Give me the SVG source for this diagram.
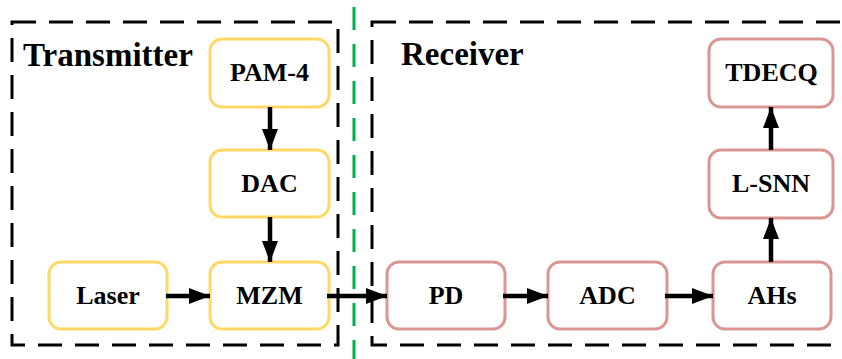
<svg xmlns="http://www.w3.org/2000/svg" width="842" height="359" viewBox="0 0 842 359">
  <style>
    .frame { fill: none; stroke: #000; stroke-width: 3; stroke-dasharray: 24 13; }
    .divider { fill: none; stroke: #00B050; stroke-width: 3; stroke-dasharray: 23 14; }
    .tx rect { fill: #fff; stroke: #FFD966; stroke-width: 3; }
    .rx rect { fill: #fff; stroke: #DA9694; stroke-width: 3; }
    text { font-family: "Liberation Serif", "Times New Roman", serif; font-weight: bold; fill: #000; }
    .lbl { font-size: 26px; text-anchor: middle; }
    .title { font-size: 33px; }
    .conn line { stroke: #000; stroke-width: 4.5; }
  </style>
  <defs>
    <marker id="head" markerUnits="userSpaceOnUse" markerWidth="22" markerHeight="16" refX="21" refY="8" orient="auto">
      <path d="M0,0 L21,8 L0,16 Z" fill="#000"/>
    </marker>
  </defs>

  <!-- section frames -->
  <rect class="frame" x="12" y="22" width="326" height="323"/>
  <rect class="frame" x="372" y="22" width="475" height="323"/>
  <line class="divider" x1="354" y1="7" x2="354" y2="359"/>

  <text class="title" x="23" y="66" font-family="Liberation Serif, serif">Transmitter</text>
  <text class="title" x="401" y="65" font-family="Liberation Serif, serif">Receiver</text>

  <!-- transmitter blocks -->
  <g id="pam4" class="tx"><rect x="210" y="39" width="119" height="68" rx="12"/><text class="lbl" x="269.5" y="81">PAM-4</text></g>
  <g id="dac" class="tx"><rect x="210" y="150" width="119" height="67" rx="12"/><text class="lbl" x="269.5" y="192">DAC</text></g>
  <g id="laser" class="tx"><rect x="49" y="262" width="118" height="67" rx="12"/><text class="lbl" x="108" y="304">Laser</text></g>
  <g id="mzm" class="tx"><rect x="210" y="262" width="119" height="67" rx="12"/><text class="lbl" x="269.5" y="304">MZM</text></g>

  <!-- receiver blocks -->
  <g id="pd" class="rx"><rect x="387" y="262" width="118" height="67" rx="12"/><text class="lbl" x="446" y="304">PD</text></g>
  <g id="adc" class="rx"><rect x="548" y="262" width="119" height="67" rx="12"/><text class="lbl" x="607.5" y="304">ADC</text></g>
  <g id="ahs" class="rx"><rect x="713" y="262" width="118" height="67" rx="12"/><text class="lbl" x="772" y="304">AHs</text></g>
  <g id="lsnn" class="rx"><rect x="709" y="150" width="124" height="68" rx="12"/><text class="lbl" x="771" y="192">L-SNN</text></g>
  <g id="tdecq" class="rx"><rect x="709" y="39" width="124" height="68" rx="12"/><text class="lbl" x="771.5" y="81">TDECQ</text></g>

  <!-- connectors -->
  <g id="connectors" class="conn">
    <line x1="270" y1="107" x2="270" y2="150" marker-end="url(#head)"/>
    <line x1="270" y1="217" x2="270" y2="262" marker-end="url(#head)"/>
    <line x1="166" y1="296" x2="210" y2="296" marker-end="url(#head)"/>
    <line x1="327" y1="296" x2="387" y2="296" marker-end="url(#head)"/>
    <line x1="503" y1="296" x2="548" y2="296" marker-end="url(#head)"/>
    <line x1="665" y1="296" x2="713" y2="296" marker-end="url(#head)"/>
    <line x1="771" y1="262" x2="771" y2="218" marker-end="url(#head)"/>
    <line x1="771" y1="150" x2="771" y2="107" marker-end="url(#head)"/>
  </g>
</svg>
